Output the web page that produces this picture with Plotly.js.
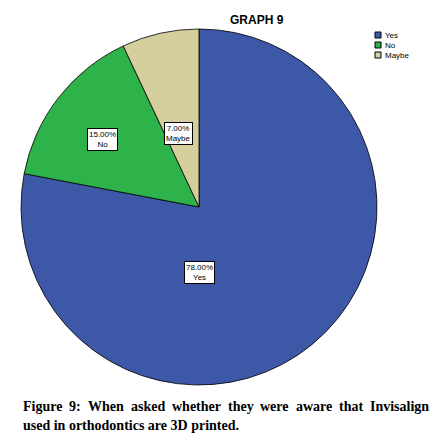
<!DOCTYPE html>
<html><head><meta charset="utf-8">
<script src="https://cdn.plot.ly/plotly-3.0.1.min.js"></script>
<style>html,body{margin:0;padding:0;background:#fff;}#c{width:440px;height:443px;}</style>
</head><body><div id="c"></div>
<script>
const labels = ["Yes", "No", "Maybe"];
const values = [78, 15, 7];
const colors = ["#3E58A8", "#2DB34A", "#D5CF9E"];
const title = "GRAPH 9";
const caption1 = "Figure 9: When asked whether they were aware that Invisalign";
const caption2 = "used in orthodontics are 3D printed.";

const W = 440, H = 443;
const px = x => x / W, py = y => 1 - y / H;

// label box centres (pixels)
const labelPos = [[199, 272], [102, 139], [178, 134]];

const annotations = [];
labels.forEach((l, i) => {
  annotations.push({
    x: px(labelPos[i][0]), y: py(labelPos[i][1]), xref: 'paper', yref: 'paper',
    xanchor: 'center', yanchor: 'middle',
    text: values[i].toFixed(2) + '%<br>' + l, showarrow: false,
    font: {family: 'Arial, Liberation Sans', size: 8, color: '#000'},
    bgcolor: '#fff', bordercolor: '#000', borderwidth: 1, borderpad: 1
  });
});
annotations.push({x: px(257), y: py(20), xref: 'paper', yref: 'paper', xanchor: 'center', yanchor: 'middle',
  text: '<b>' + title + '</b>',
  showarrow: false, font: {family: 'Arial, Liberation Sans', size: 12, color: '#000'}});

const shapes = [];
labels.forEach((l, i) => {
  const y0 = 32 + i * 10;
  shapes.push({type: 'rect', xref: 'paper', yref: 'paper', x0: px(375), x1: px(381), y0: py(y0), y1: py(y0 + 6),
    fillcolor: colors[i], line: {color: '#000', width: 1}});
  annotations.push({x: px(383), y: py(y0 + 3), xref: 'paper', yref: 'paper', xanchor: 'left', yanchor: 'middle',
    text: l, showarrow: false, font: {family: 'Arial, Liberation Sans', size: 8, color: '#000'}});
});

// caption: line 1 justified between x=22 and x=428
const capFont = {family: 'Liberation Serif, DejaVu Serif', size: 14, color: '#000'};
const cv = document.createElement('canvas').getContext('2d');
cv.font = 'bold 14px "Liberation Serif"';
const words = caption1.split(' ');
const widths = words.map(w => cv.measureText(w).width);
const total = widths.reduce((a, b) => a + b, 0);
const gap = (428 - 22 - total) / (words.length - 1);
let cx = 22;
words.forEach((w, i) => {
  annotations.push({x: px(cx), y: py(406), xref: 'paper', yref: 'paper', xanchor: 'left', yanchor: 'middle',
    text: '<b>' + w + '</b>', showarrow: false, font: capFont, borderpad: 0});
  cx += widths[i] + gap;
});
annotations.push({x: px(22), y: py(425), xref: 'paper', yref: 'paper', xanchor: 'left', yanchor: 'middle',
  text: '<b>' + caption2 + '</b>', showarrow: false, font: capFont, borderpad: 0});

const data = [{
  type: 'pie', labels: labels, values: values, sort: false, direction: 'clockwise', rotation: 0,
  marker: {colors: colors, line: {color: '#000', width: 0.8}},
  textinfo: 'none', hoverinfo: 'none', showlegend: false,
  domain: {x: [px(21), px(377)], y: [py(385), py(29)]}
}];

const layout = {
  width: W, height: H, margin: {l: 0, r: 0, t: 0, b: 0},
  paper_bgcolor: '#fff', plot_bgcolor: '#fff', showlegend: false,
  annotations: annotations, shapes: shapes
};
Plotly.newPlot('c', data, layout, {displayModeBar: false, staticPlot: true});
</script></body></html>
